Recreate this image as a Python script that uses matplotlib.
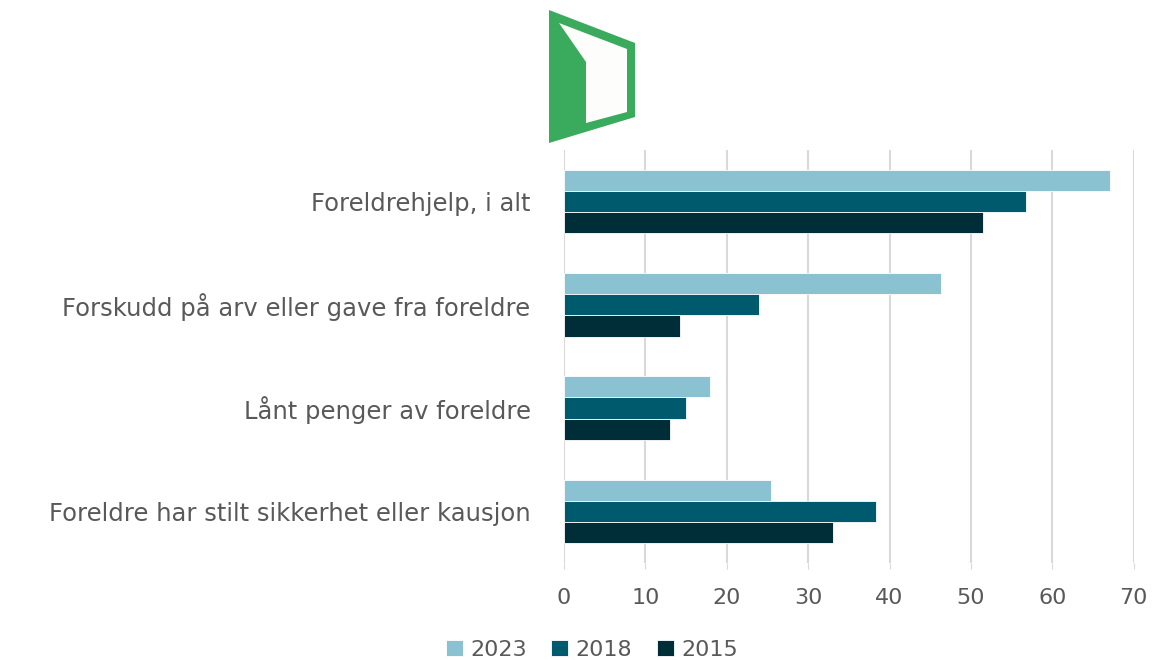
import numpy as np
import matplotlib.pyplot as plt
from matplotlib.patches import Polygon

plt.rcParams['font.family'] = ['DejaVu Sans']

# Data
categories = ['Foreldrehjelp, i alt',
              'Forskudd på arv eller gave fra foreldre',
              'Lånt penger av foreldre',
              'Foreldre har stilt sikkerhet eller kausjon']
years = ['2023', '2018', '2015']
values_2023 = [67.1, 46.3, 18.0, 25.5]
values_2018 = [56.8, 24.0, 15.0, 38.4]
values_2015 = [51.5, 14.3, 13.0, 33.1]
colors = ['#8BC2D2', '#005A6E', '#002E38']

fig = plt.figure(figsize=(11.58, 6.6), dpi=100)
ax = fig.add_axes([0.487, 0.147, 0.492, 0.626])

y = np.arange(len(categories))
h = 0.205
series = [values_2023, values_2018, values_2015]
for i, (vals, lab, col) in enumerate(zip(series, years, colors)):
    ax.barh(y + (i - 1) * h, vals, height=h, color=col, label=lab,
            edgecolor='white', linewidth=0.6, zorder=3)

ax.set_xlim(0, 70)
ax.set_ylim(3.5, -0.5)
ax.set_xticks(range(0, 71, 10))
ax.set_yticks(y)
ax.set_yticklabels(categories)
ax.grid(axis='x', color='#d9d9d9', linewidth=1.5, zorder=0)
for s in ax.spines.values():
    s.set_visible(False)
ax.tick_params(axis='y', length=0, pad=24, labelsize=17.5, labelcolor='#595959')
ax.tick_params(axis='x', length=4, color='#d9d9d9', pad=14, labelsize=16,
               labelcolor='#595959')

# Legend
fig.legend(loc='lower center', bbox_to_anchor=(592 / 1158, -0.03), ncol=3,
           frameon=False, handlelength=0.75, handleheight=0.75, handletextpad=0.35,
           columnspacing=1.1, fontsize=16, labelcolor='#595959')

# Logo
def px(pts):
    return [(x / 1158, 1 - yy / 660) for x, yy in pts]

outer = px([(549, 10), (635, 43), (635, 117), (549, 143)])
inner = px([(559, 23), (627, 49), (627, 112), (586, 123), (586, 62)])
fig.add_artist(Polygon(outer, closed=True, facecolor='#3AAA5C', edgecolor='none',
                       transform=fig.transFigure))
fig.add_artist(Polygon(inner, closed=True, facecolor='#FDFDFB', edgecolor='none',
                       transform=fig.transFigure))

plt.savefig('out.png', dpi=100)
